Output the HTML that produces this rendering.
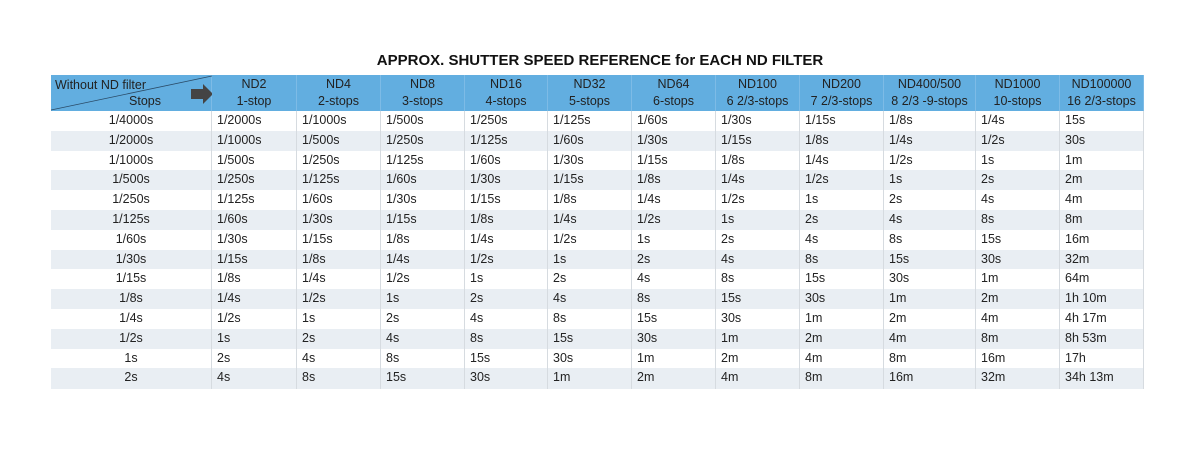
<!DOCTYPE html>
<html><head><meta charset="utf-8"><style>
body{margin:0;width:1200px;height:459px;background:#fff;font-family:"Liberation Sans",sans-serif;position:relative;overflow:hidden}
#title{position:absolute;left:0;width:1200px;top:52px;text-align:center;font-weight:bold;font-size:15px;color:#111}
.c{position:absolute;box-sizing:border-box;font-size:12.5px;color:#222;white-space:nowrap;border-right:1px solid #d6dbe0}
.h{background:#62aee0;text-align:center;line-height:17px;padding-top:1px;border-right:1px solid #7dbbe6}
</style></head><body>
<div id="title">APPROX. SHUTTER SPEED REFERENCE for EACH ND FILTER</div>
<div id="tbl"></div>
<script>
const colEdges=[51,212,297,381,465,548,632,716,800,884,976,1060,1144];
const headers1=["ND2","ND4","ND8","ND16","ND32","ND64","ND100","ND200","ND400/500","ND1000","ND100000"];
const headers2=["1-stop","2-stops","3-stops","4-stops","5-stops","6-stops","6 2/3-stops","7 2/3-stops","8 2/3 -9-stops","10-stops","16 2/3-stops"];
const rows=[
["1/4000s","1/2000s","1/1000s","1/500s","1/250s","1/125s","1/60s","1/30s","1/15s","1/8s","1/4s","15s"],
["1/2000s","1/1000s","1/500s","1/250s","1/125s","1/60s","1/30s","1/15s","1/8s","1/4s","1/2s","30s"],
["1/1000s","1/500s","1/250s","1/125s","1/60s","1/30s","1/15s","1/8s","1/4s","1/2s","1s","1m"],
["1/500s","1/250s","1/125s","1/60s","1/30s","1/15s","1/8s","1/4s","1/2s","1s","2s","2m"],
["1/250s","1/125s","1/60s","1/30s","1/15s","1/8s","1/4s","1/2s","1s","2s","4s","4m"],
["1/125s","1/60s","1/30s","1/15s","1/8s","1/4s","1/2s","1s","2s","4s","8s","8m"],
["1/60s","1/30s","1/15s","1/8s","1/4s","1/2s","1s","2s","4s","8s","15s","16m"],
["1/30s","1/15s","1/8s","1/4s","1/2s","1s","2s","4s","8s","15s","30s","32m"],
["1/15s","1/8s","1/4s","1/2s","1s","2s","4s","8s","15s","30s","1m","64m"],
["1/8s","1/4s","1/2s","1s","2s","4s","8s","15s","30s","1m","2m","1h 10m"],
["1/4s","1/2s","1s","2s","4s","8s","15s","30s","1m","2m","4m","4h 17m"],
["1/2s","1s","2s","4s","8s","15s","30s","1m","2m","4m","8m","8h 53m"],
["1s","2s","4s","8s","15s","30s","1m","2m","4m","8m","16m","17h"],
["2s","4s","8s","15s","30s","1m","2m","4m","8m","16m","32m","34h 13m"]];
const T=document.getElementById('tbl');
const headTop=75,headH=36,rowH=19.8;
function cell(x,y,w,h,cls){const d=document.createElement('div');d.className=cls;d.style.left=x+'px';d.style.top=y+'px';d.style.width=w+'px';d.style.height=h+'px';T.appendChild(d);return d;}
// header first cell
const hc=cell(51,headTop,161,headH,'c h');


hc.style.textAlign='left';
hc.innerHTML='<div style="position:absolute;left:4px;top:2px">Without ND filter</div><div style="position:absolute;right:50px;top:18px">Stops</div><svg width="161" height="36" style="position:absolute;left:0;top:0"><line x1="0" y1="35" x2="161" y2="1" stroke="#2a4a66" stroke-width="0.8"/><polygon points="140,14 152,14 152,9 162,19 152,29 152,24 140,24" fill="#444"/></svg>';
for(let i=0;i<headers1.length;i++){
 const x=colEdges[i+1],w=colEdges[i+2]-x;
 const d=cell(x,headTop,w,headH,'c h');
 
 
 d.innerHTML=headers1[i]+'<br>'+headers2[i];
}
rows.forEach((r,ri)=>{
 const y=headTop+headH+ri*rowH;
 r.forEach((v,ci)=>{
  const x=colEdges[ci],w=colEdges[ci+1]-x;
  const d=cell(x,y,w,rowH+0.5,'c');
  
  
  d.style.background=ri%2?'#e9eef3':'#fff';
  d.style.lineHeight=rowH+'px';
  d.style.paddingLeft=ci?'5px':'0';
  if(ci===0)d.style.textAlign='center';
  d.textContent=v;
 });
});
</script>
</body></html>
